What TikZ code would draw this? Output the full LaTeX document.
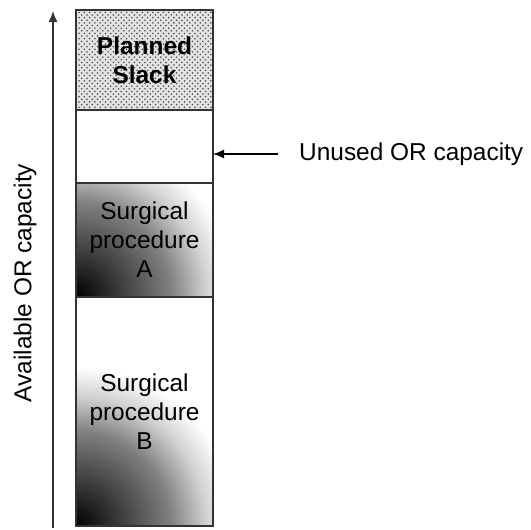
\documentclass[tikz,border=0pt]{standalone}
\usepackage{fontspec}
\setmainfont{Liberation Sans}
\usetikzlibrary{positioning,patterns,arrows.meta}
\pgfdeclareradialshading{cornerfade}{\pgfpoint{0bp}{0bp}}{color(0bp)=(black); color(8bp)=(black!50); color(11bp)=(black!18); color(13.5bp)=(white); color(50bp)=(white)}
\begin{document}
\begin{tikzpicture}[>={Latex[length=2.2mm,width=1.8mm]},
    txt/.style={font=\fontsize{13.9}{16.5}\selectfont},
    block/.style={txt,draw=black!80,line width=0.8pt,minimum width=2.74cm,outer sep=0pt,inner sep=0pt,align=center},
    faded/.style={block,path picture={\shade[shading=cornerfade] (path picture bounding box.south west) circle (5.9cm);}}]
  \useasboundingbox (0,0) rectangle (10.62,10.58);
  % the stack of OR time
  \node[block,minimum height=2cm,anchor=north,preaction={fill=gray!22},pattern=crosshatch dots,pattern color=black!70] (slack) at (2.89,10.38) {\textbf{Planned}\\\textbf{Slack}};
  \node[block,minimum height=1.46cm,below=0pt of slack] (unused) {};
  \node[faded,minimum height=2.28cm,below=0pt of unused] (procA) {Surgical\\procedure\\A};
  \node[faded,minimum height=4.58cm,below=0pt of procA] (procB) {Surgical\\procedure\\B};
  % capacity axis
  \coordinate (axbot) at (1.06,0.03);
  \coordinate (axtop) at (1.06,10.36);
  \draw[->,line width=0.8pt,black!80] (axbot) -- (axtop);
  \node[txt,rotate=90] (axlbl) at (0.5,4.92) {Available OR capacity};
  % unused capacity label
  \coordinate (arrstart) at (5.56,7.5);
  \node[txt,right=0.3cm of arrstart] (unusedlbl) {Unused OR capacity};
  \draw[->,line width=0.8pt] (arrstart) -- (arrstart -| unused.east);
\end{tikzpicture}
\end{document}
